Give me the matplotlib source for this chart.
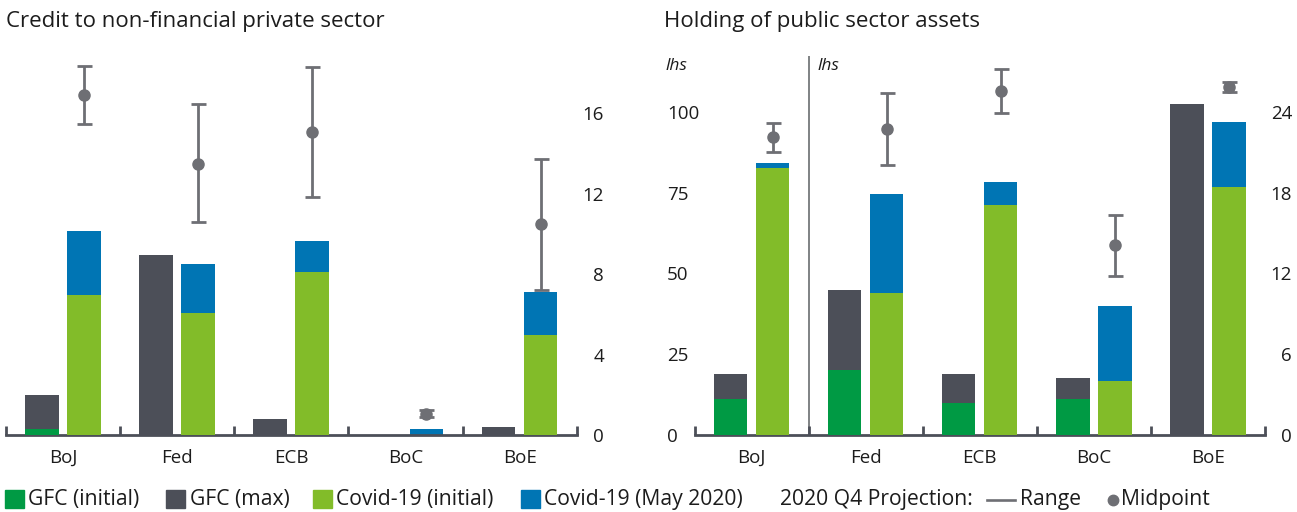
import matplotlib
matplotlib.use('Agg')
import matplotlib.pyplot as plt
from matplotlib.patches import Rectangle
from matplotlib.lines import Line2D
import numpy as np

plt.rcParams['font.family'] = ['Open Sans', 'DejaVu Sans']

banks = ['BoJ', 'Fed', 'ECB', 'BoC', 'BoE']

# Credit to non-financial private sector
credit_gfc_initial = [0.3, 0, 0, 0, 0]
credit_gfc_max = [2.0, 8.95, 0.8, 0, 0.4]
credit_covid_initial = [6.95, 6.05, 8.1, 0, 4.98]
credit_covid_may = [10.15, 8.5, 9.65, 0.3, 7.1]
credit_proj_low = [15.45, 10.6, 11.85, 0.88, 7.2]
credit_proj_mid = [16.9, 13.5, 15.05, 1.05, 10.48]
credit_proj_high = [18.35, 16.45, 18.3, 1.25, 13.72]

# Holding of public sector assets (BoJ on lhs scale, others on rhs scale)
hold_gfc_initial = [11.1, 4.83, 2.38, 2.67, 0]
hold_gfc_max = [18.9, 10.76, 4.53, 4.21, 24.57]
hold_covid_initial = [82.7, 10.54, 17.08, 4.0, 18.41]
hold_covid_may = [84.0, 17.89, 18.78, 9.58, 23.24]
hold_proj_low = [87.6, 20.04, 23.93, 11.8, 25.49]
hold_proj_mid = [92.1, 22.72, 25.56, 14.08, 25.8]
hold_proj_high = [96.6, 25.41, 27.19, 16.33, 26.18]
hold_axis = ['lhs', 'rhs', 'rhs', 'rhs', 'rhs']

credit_ticks = [0, 4, 8, 12, 16]
lhs_ticks = [0, 25, 50, 75, 100]
rhs_ticks = [0, 6, 12, 18, 24]

legend_labels = ['GFC (initial)', 'GFC (max)', 'Covid-19 (initial)', 'Covid-19 (May 2020)']

GREEN = '#009A44'
DARK = '#4C4F58'
LGREEN = '#82BC29'
BLUE = '#0075B4'
GRAY = '#6E6F74'
TXT = '#1c1c1c'

W, H = 1297, 512
fig = plt.figure(figsize=(W / 100, H / 100), dpi=100)


def fx(px):
    return px / W


def fy(py):
    return 1 - py / H


OFF = 0.184
BW = 0.295
TICK_FS = 13.5


def style_axis(ax):
    for s in ['top', 'left', 'right']:
        ax.spines[s].set_visible(False)
    ax.spines['bottom'].set_color(DARK)
    ax.spines['bottom'].set_linewidth(2)
    ax.set_xlim(-0.5, 4.5)
    ax.set_xticks(np.arange(5), banks)
    ax.set_xticks(np.arange(-0.5, 5, 1), minor=True)
    ax.tick_params(axis='x', which='major', length=0, pad=10,
                   labelsize=TICK_FS, labelcolor=TXT)
    ax.tick_params(axis='x', which='minor', direction='in', length=6.5,
                   width=2, color=DARK)


def draw_err(ax, x, lo, mid, hi):
    ax.errorbar([x], [mid], yerr=[[mid - lo], [hi - mid]], fmt='o',
                color=GRAY, ecolor=GRAY, elinewidth=2, capsize=5.4,
                capthick=2, markersize=8, zorder=5)


# ---- Left panel ----
ax1 = fig.add_axes([fx(5.9), fy(435), fx(570.8), 379 / H])
style_axis(ax1)
ax1.set_ylim(0, 379 / 20.1)
x = np.arange(5)
ax1.bar(x - OFF, credit_gfc_max, BW, color=DARK, zorder=2)
ax1.bar(x - OFF, credit_gfc_initial, BW, color=GREEN, zorder=3)
ax1.bar(x + OFF, credit_covid_may, BW, color=BLUE, zorder=2)
ax1.bar(x + OFF, credit_covid_initial, BW, color=LGREEN, zorder=3)
for i in range(5):
    draw_err(ax1, i + OFF, credit_proj_low[i], credit_proj_mid[i], credit_proj_high[i])
ax1.yaxis.tick_right()
ax1.set_yticks(credit_ticks)
ax1.tick_params(axis='y', length=0, pad=19.6, labelsize=TICK_FS, labelcolor=TXT)
plt.setp(ax1.get_yticklabels(), ha='right')

# ---- Right panel ----
ax2 = fig.add_axes([fx(694.5), fy(435), fx(570.3), 379 / H])
ax3 = ax2.twinx()
style_axis(ax2)
for s in ['top', 'left', 'right', 'bottom']:
    ax3.spines[s].set_visible(False)
lhs_top = 379 / 3.233
ax2.set_ylim(0, lhs_top)
ax3.set_ylim(0, lhs_top * 0.24)
for i in range(5):
    a = ax2 if hold_axis[i] == 'lhs' else ax3
    a.bar(i - OFF, hold_gfc_max[i], BW, color=DARK, zorder=2)
    a.bar(i - OFF, hold_gfc_initial[i], BW, color=GREEN, zorder=3)
    a.bar(i + OFF, hold_covid_may[i], BW, color=BLUE, zorder=2)
    a.bar(i + OFF, hold_covid_initial[i], BW, color=LGREEN, zorder=3)
    draw_err(a, i + OFF, hold_proj_low[i], hold_proj_mid[i], hold_proj_high[i])
ax2.axvline(0.5, color='#75787B', lw=1.3, zorder=1)
ax2.set_yticks(lhs_ticks)
ax2.tick_params(axis='y', length=0, pad=19.8, labelsize=TICK_FS, labelcolor=TXT)
plt.setp(ax2.get_yticklabels(), ha='left')
ax3.set_yticks(rhs_ticks)
ax3.tick_params(axis='y', length=0, pad=19.6, labelsize=TICK_FS, labelcolor=TXT)
plt.setp(ax3.get_yticklabels(), ha='right')

fig.text(fx(666), fy(66), 'lhs', style='italic', fontsize=12.5, va='center', color=TXT)
fig.text(fx(818), fy(66), 'lhs', style='italic', fontsize=12.5, va='center', color=TXT)

# ---- Titles ----
fig.text(fx(5.5), fy(27.3), 'Credit to non-financial private sector',
         fontsize=16, va='baseline', color=TXT)
fig.text(fx(664.5), fy(27.3), 'Holding of public sector assets',
         fontsize=16, va='baseline', color=TXT)

# ---- Legend ----
LEG_FS = 15.2
base = fy(505.5)
sq_x = [5, 166, 313.3, 521]
txt_x = [28.5, 190, 336.5, 544.5]
for sx, tx, col, lab in zip(sq_x, txt_x, [GREEN, DARK, LGREEN, BLUE], legend_labels):
    fig.add_artist(Rectangle((fx(sx), fy(508.3)), 19 / W, 18.3 / H,
                             transform=fig.transFigure, color=col))
    fig.text(fx(tx), base, lab, fontsize=LEG_FS, va='baseline', color=TXT)
fig.text(fx(780), base, '2020 Q4 Projection:', fontsize=LEG_FS, va='baseline', color=TXT)
fig.add_artist(Line2D([fx(986.7), fx(1015)], [fy(500), fy(500)],
                      transform=fig.transFigure, color=GRAY, lw=1.9))
fig.text(fx(1020), base, 'Range', fontsize=LEG_FS, va='baseline', color=TXT)
fig.add_artist(Line2D([fx(1113)], [fy(499.5)], transform=fig.transFigure,
                      marker='o', markersize=7.5, color=GRAY, lw=0))
fig.text(fx(1121), base, 'Midpoint', fontsize=LEG_FS, va='baseline', color=TXT)

fig.savefig('out.png', dpi=100)
